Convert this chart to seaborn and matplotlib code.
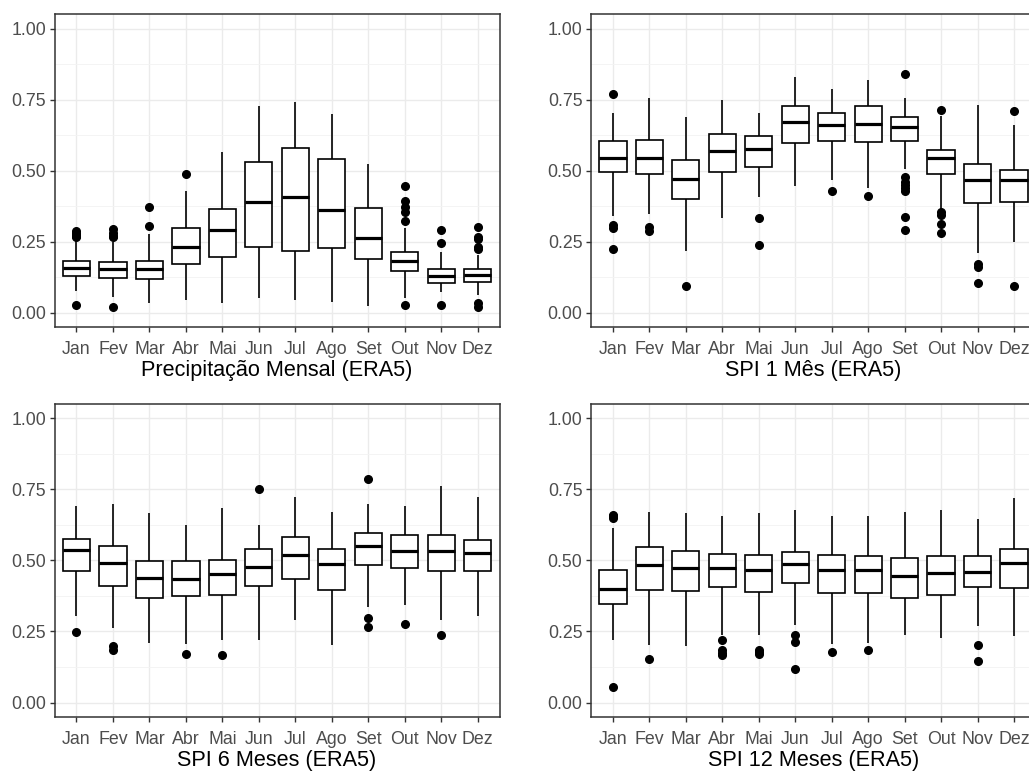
import numpy as np
import pandas as pd
import matplotlib
matplotlib.use("Agg")
import matplotlib.pyplot as plt
import seaborn as sns
from matplotlib.ticker import MultipleLocator, StrMethodFormatter

meses = ['Jan', 'Fev', 'Mar', 'Abr', 'Mai', 'Jun', 'Jul', 'Ago', 'Set', 'Out', 'Nov', 'Dez']

# ---------------------------------------------------------
# Resumo: bigode inferior, Q1, mediana, Q3, bigode superior, outliers
# ---------------------------------------------------------
# Precipitação Mensal (ERA5)
prec_min = [0.078, 0.054, 0.033, 0.045, 0.033, 0.051, 0.045, 0.039, 0.025, 0.053, 0.074, 0.062]
prec_q1 = [0.131, 0.123, 0.120, 0.172, 0.198, 0.233, 0.219, 0.228, 0.188, 0.147, 0.104, 0.107]
prec_med = [0.158, 0.153, 0.154, 0.232, 0.292, 0.389, 0.409, 0.362, 0.263, 0.183, 0.131, 0.132]
prec_q3 = [0.183, 0.178, 0.184, 0.298, 0.365, 0.530, 0.579, 0.541, 0.370, 0.215, 0.153, 0.153]
prec_max = [0.255, 0.250, 0.276, 0.429, 0.565, 0.727, 0.741, 0.700, 0.523, 0.300, 0.215, 0.205]
prec_out = [[0.027, 0.265, 0.27, 0.275, 0.28, 0.289], [0.021, 0.265, 0.27, 0.28, 0.294],
            [0.307, 0.371], [0.49], [], [], [], [], [],
            [0.027, 0.322, 0.353, 0.374, 0.395, 0.445], [0.027, 0.247, 0.292],
            [0.021, 0.033, 0.226, 0.232, 0.258, 0.268, 0.303]]

# SPI 1 Mês (ERA5)
spi1_min = [0.341, 0.348, 0.219, 0.332, 0.409, 0.447, 0.468, 0.439, 0.506, 0.365, 0.212, 0.250]
spi1_q1 = [0.494, 0.489, 0.400, 0.494, 0.512, 0.598, 0.603, 0.602, 0.606, 0.489, 0.386, 0.391]
spi1_med = [0.545, 0.545, 0.472, 0.570, 0.576, 0.670, 0.659, 0.666, 0.654, 0.545, 0.468, 0.468]
spi1_q3 = [0.603, 0.609, 0.536, 0.630, 0.621, 0.729, 0.703, 0.727, 0.688, 0.574, 0.525, 0.501]
spi1_max = [0.703, 0.756, 0.689, 0.747, 0.703, 0.830, 0.788, 0.819, 0.757, 0.692, 0.730, 0.662]
spi1_out = [[0.223, 0.299, 0.308, 0.770], [0.289, 0.303], [0.094], [], [0.240, 0.333], [],
            [0.427], [0.410], [0.292, 0.337, 0.43, 0.44, 0.45, 0.46, 0.478, 0.839],
            [0.282, 0.313, 0.345, 0.355, 0.713], [0.104, 0.162, 0.172], [0.094, 0.709]]

# SPI 6 Meses (ERA5)
spi6_min = [0.303, 0.263, 0.211, 0.205, 0.221, 0.221, 0.289, 0.201, 0.336, 0.342, 0.289, 0.304]
spi6_q1 = [0.461, 0.410, 0.369, 0.374, 0.379, 0.409, 0.434, 0.395, 0.485, 0.472, 0.461, 0.461]
spi6_med = [0.537, 0.491, 0.439, 0.436, 0.451, 0.477, 0.518, 0.486, 0.549, 0.533, 0.533, 0.527]
spi6_q3 = [0.577, 0.550, 0.498, 0.498, 0.502, 0.540, 0.582, 0.540, 0.597, 0.591, 0.591, 0.570]
spi6_max = [0.693, 0.697, 0.666, 0.625, 0.685, 0.625, 0.722, 0.670, 0.697, 0.692, 0.763, 0.722]
spi6_out = [[0.249], [0.186, 0.198], [], [0.172], [0.166], [0.752], [], [],
            [0.265, 0.296, 0.788], [0.275], [0.239], []]

# SPI 12 Meses (ERA5)
spi12_min = [0.219, 0.204, 0.198, 0.237, 0.237, 0.272, 0.205, 0.210, 0.239, 0.228, 0.269, 0.233]
spi12_q1 = [0.345, 0.397, 0.393, 0.406, 0.389, 0.420, 0.385, 0.385, 0.369, 0.379, 0.406, 0.404]
spi12_med = [0.399, 0.484, 0.473, 0.473, 0.465, 0.488, 0.467, 0.467, 0.445, 0.455, 0.459, 0.491]
spi12_q3 = [0.465, 0.547, 0.532, 0.522, 0.520, 0.529, 0.520, 0.515, 0.508, 0.515, 0.515, 0.539]
spi12_max = [0.614, 0.670, 0.666, 0.656, 0.666, 0.678, 0.656, 0.656, 0.670, 0.678, 0.646, 0.719]
spi12_out = [[0.055, 0.648, 0.655, 0.66], [0.153], [], [0.168, 0.175, 0.186, 0.221],
             [0.170, 0.178, 0.185], [0.119, 0.213, 0.239], [0.176], [0.185], [], [],
             [0.146, 0.201], []]


def amostra(lo, q1, med, q3, hi, outs):
    """Monta uma amostra cujos quartis/bigodes reproduzem o resumo lido."""
    baixo = sorted(v for v in outs if v < med)
    alto = sorted(v for v in outs if v > med)
    m = max(len(baixo), len(alto)) + 1
    k = m + 2
    return (baixo + [lo] * (m - len(baixo)) + [q1] * k + [med]
            + [q3] * k + [hi] * (m - len(alto)) + alto)


def montar_df(mins, q1s, meds, q3s, maxs, outs):
    linhas = []
    for i, mes in enumerate(meses):
        for v in amostra(mins[i], q1s[i], meds[i], q3s[i], maxs[i], outs[i]):
            linhas.append({'mes': mes, 'valor': v})
    return pd.DataFrame(linhas)


paineis = [
    ('Precipitação Mensal (ERA5)', montar_df(prec_min, prec_q1, prec_med, prec_q3, prec_max, prec_out)),
    ('SPI 1 Mês (ERA5)', montar_df(spi1_min, spi1_q1, spi1_med, spi1_q3, spi1_max, spi1_out)),
    ('SPI 6 Meses (ERA5)', montar_df(spi6_min, spi6_q1, spi6_med, spi6_q3, spi6_max, spi6_out)),
    ('SPI 12 Meses (ERA5)', montar_df(spi12_min, spi12_q1, spi12_med, spi12_q3, spi12_max, spi12_out)),
]

sns.set_style("whitegrid", rc={'axes.edgecolor': '#333333', 'grid.color': '#EBEBEB',
                               'axes.axisbelow': True})
plt.rcParams['font.family'] = ['Liberation Sans', 'DejaVu Sans']

fig = plt.figure(figsize=(10.29, 7.72), dpi=100)
largura, altura = 0.4325, 0.405
posicoes = [(0.0530, 0.5764), (0.5743, 0.5764), (0.0530, 0.0716), (0.5743, 0.0716)]

for (titulo, df), (x0, y0) in zip(paineis, posicoes):
    ax = fig.add_axes([x0, y0, largura, altura])
    sns.boxplot(ax=ax, data=df, x='mes', y='valor', order=meses, color='white',
                saturation=1, linecolor='black', linewidth=1.2, width=0.75,
                showcaps=False,
                medianprops=dict(color='black', linewidth=2.3),
                flierprops=dict(marker='o', markersize=5.5, markerfacecolor='black',
                                markeredgecolor='black'))
    ax.set_xlim(-0.6, 11.6)
    ax.set_ylim(-0.05, 1.05)
    ax.set_yticks([0, 0.25, 0.5, 0.75, 1.0])
    ax.yaxis.set_major_formatter(StrMethodFormatter('{x:.2f}'))
    ax.yaxis.set_minor_locator(MultipleLocator(0.125))
    ax.grid(True, which='major', axis='both', color='#EBEBEB', linewidth=1.0)
    ax.grid(True, which='minor', axis='y', color='#F3F3F3', linewidth=0.6)
    for lado in ax.spines.values():
        lado.set_visible(True)
        lado.set_color('#333333')
        lado.set_linewidth(1.1)
    ax.tick_params(axis='both', which='major', length=3.6, width=1.0, color='#333333',
                   labelcolor='#4D4D4D', labelsize=12.8, left=True, bottom=True)
    ax.tick_params(axis='x', pad=6.5)
    ax.tick_params(axis='y', pad=2.5)
    ax.tick_params(which='minor', length=0)
    ax.set_xlabel(titulo, fontsize=15.6, color='black', labelpad=1.5)
    ax.set_ylabel('')

fig.savefig('out.png', dpi=100)
